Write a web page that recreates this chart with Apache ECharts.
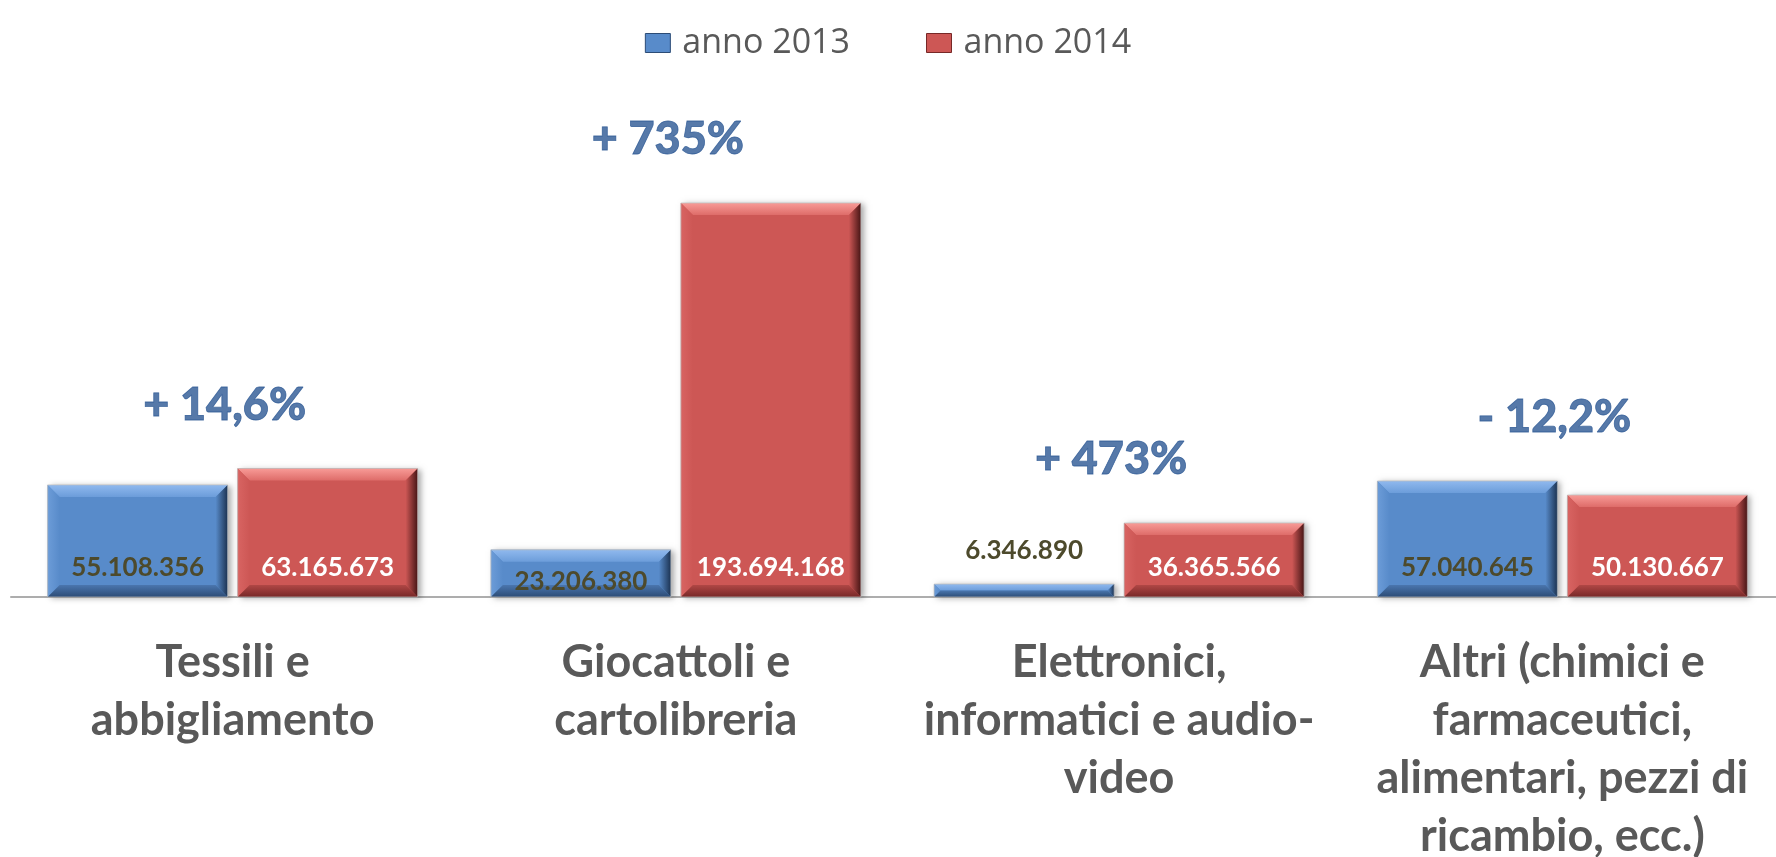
<!DOCTYPE html>
<html>
<head>
<meta charset="utf-8">
<script src="https://cdn.jsdelivr.net/npm/echarts@6/dist/echarts.min.js"></script>
<style>
html,body{margin:0;padding:0;background:#fff;}
#chart{width:1776px;height:857px;}
</style>
</head>
<body>
<div id="chart"></div>
<script>
// ---- data ----
const categories = [
  'Tessili e\nabbigliamento',
  'Giocattoli e\ncartolibreria',
  'Elettronici,\ninformatici e audio-\nvideo',
  'Altri (chimici e\nfarmaceutici,\nalimentari, pezzi di\nricambio, ecc.)'
];
const seriesNames = ['anno 2013', 'anno 2014'];
const values2013 = [55108356, 23206380, 6346890, 57040645];
const values2014 = [63165673, 193694168, 36365566, 50130667];
const changeLabels = ['+ 14,6%', '+ 735%', '+ 473%', '- 12,2%'];

// ---- style ----
const BAR_W = 180, BAR_GAP = 10;
const HALF = (BAR_W + BAR_GAP) / 2;
const blue = {face:'#588BCA', topOuter:'#90B9EE', topInner:'#6C9DDA', leftOuter:'#6C9CD8',
  rightOuter:'#1C3352', bottomInner:'#4A76AE', bottomOuter:'#2C4C76'};
const red = {face:'#CD5755', topOuter:'#F89B97', topInner:'#DE6C69', leftOuter:'#D86462',
  rightOuter:'#471515', bottomInner:'#B04745', bottomOuter:'#772827'};

function fmt(v){ return String(v).replace(/\B(?=(\d{3})+(?!\d))/g, '.'); }
function lg(x1,y1,x2,y2,c1,c2){
  return new echarts.graphic.LinearGradient(x1,y1,x2,y2,[{offset:0,color:c1},{offset:1,color:c2}]);
}
function bevelRenderer(offset, pal){
  return function(params, api){
    const i = api.value(0), v = api.value(1);
    const top = api.coord([i, v]);
    const base = api.coord([i, 0]);
    const x0 = top[0] + offset - BAR_W/2, x1 = x0 + BAR_W;
    const y0 = top[1], y1 = base[1];
    const h = y1 - y0;
    const b = Math.min(12, h/2);
    return {type:'group', children:[
      {type:'rect', shape:{x:x0,y:y0,width:BAR_W,height:h},
        style:{fill:pal.face, shadowBlur:6, shadowColor:'rgba(0,0,0,0.35)', shadowOffsetX:3, shadowOffsetY:1}},
      {type:'polygon', shape:{points:[[x0,y0],[x1,y0],[x1-b,y0+b],[x0+b,y0+b]]},
        style:{fill:lg(0,0,0,1,pal.topOuter,pal.topInner)}},
      {type:'polygon', shape:{points:[[x0,y0],[x0+b,y0+b],[x0+b,y1-b],[x0,y1]]},
        style:{fill:lg(0,0,1,0,pal.leftOuter,pal.face)}},
      {type:'polygon', shape:{points:[[x1,y0],[x1,y1],[x1-b,y1-b],[x1-b,y0+b]]},
        style:{fill:lg(0,0,1,0,pal.face,pal.rightOuter)}},
      {type:'polygon', shape:{points:[[x0,y1],[x0+b,y1-b],[x1-b,y1-b],[x1,y1]]},
        style:{fill:lg(0,0,0,1,pal.bottomInner,pal.bottomOuter)}},
      {type:'rect', shape:{x:x0,y:y0,width:BAR_W,height:h},
        style:{fill:'none', stroke:'rgba(190,190,190,0.7)', lineWidth:1}}
    ]};
  };
}

const labelBase = {show:true, position:'insideBottom', distance:16,
  fontFamily:'Lato', fontWeight:'bold', fontSize:26, formatter:p => fmt(p.value)};

const data2013 = values2013.map((v, i) => {
  if (i === 1) return {value:v, label:{distance:2}};
  if (i === 2) return {value:v, label:{position:'top', distance:20}};
  return v;
});

const option = {
  animation:false,
  legend:{
    data:[
      {name:seriesNames[0], itemStyle:{color:blue.face, borderColor:'#2C4C76', borderWidth:1}},
      {name:seriesNames[1], itemStyle:{color:red.face, borderColor:'#772827', borderWidth:1}}
    ],
    top:19, left:'center', icon:'rect', itemWidth:25, itemHeight:19, itemGap:76,
    textStyle:{fontFamily:'Open Sans', fontSize:34, color:'#595959', lineHeight:38, padding:[0,0,0,7]}
  },
  grid:{left:11, right:-8, top:60, bottom:260, containLabel:false, outerBoundsMode:'none'},
  xAxis:{
    type:'category', data:categories,
    axisTick:{show:false},
    axisLine:{lineStyle:{color:'#ADADAD', width:2}},
    axisLabel:{interval:0, fontFamily:'Lato', fontWeight:'bold', fontSize:45, color:'#595959',
      lineHeight:58, margin:36}
  },
  yAxis:{type:'value', min:0, max:264000000, show:false, splitLine:{show:false}},
  series:[
    {type:'custom', z:1, renderItem:bevelRenderer(-HALF, blue),
      data:values2013.map((v,i)=>[i,v]), encode:{x:0,y:1}, silent:true},
    {type:'custom', z:1, renderItem:bevelRenderer(HALF, red),
      data:values2014.map((v,i)=>[i,v]), encode:{x:0,y:1}, silent:true},
    {name:seriesNames[0], type:'bar', z:2, barWidth:BAR_W, barGap:(BAR_GAP/BAR_W*100)+'%',
      itemStyle:{color:'rgba(0,0,0,0)'},
      label:Object.assign({}, labelBase, {color:'#4D4A2C'}),
      data:data2013},
    {name:seriesNames[1], type:'bar', z:2, barWidth:BAR_W,
      itemStyle:{color:'rgba(0,0,0,0)'},
      label:Object.assign({}, labelBase, {color:'#FFFFFF'}),
      data:values2014},
    {type:'scatter', z:3, symbolSize:1, itemStyle:{color:'rgba(0,0,0,0)'}, silent:true,
      data:values2013.map((v,i)=>[i, Math.max(v, values2014[i])]),
      label:{show:true, position:'top', distance:38, offset:[-8,0],
        fontFamily:'Lato', fontWeight:900, fontSize:45, lineHeight:50, color:'#2C5894',
        textBorderColor:'#2C5894', textBorderWidth:0.8,
        formatter:p => changeLabels[p.dataIndex]}}
  ]
};
const chart = echarts.init(document.getElementById('chart'));
chart.setOption(option);
</script>
</body>
</html>
